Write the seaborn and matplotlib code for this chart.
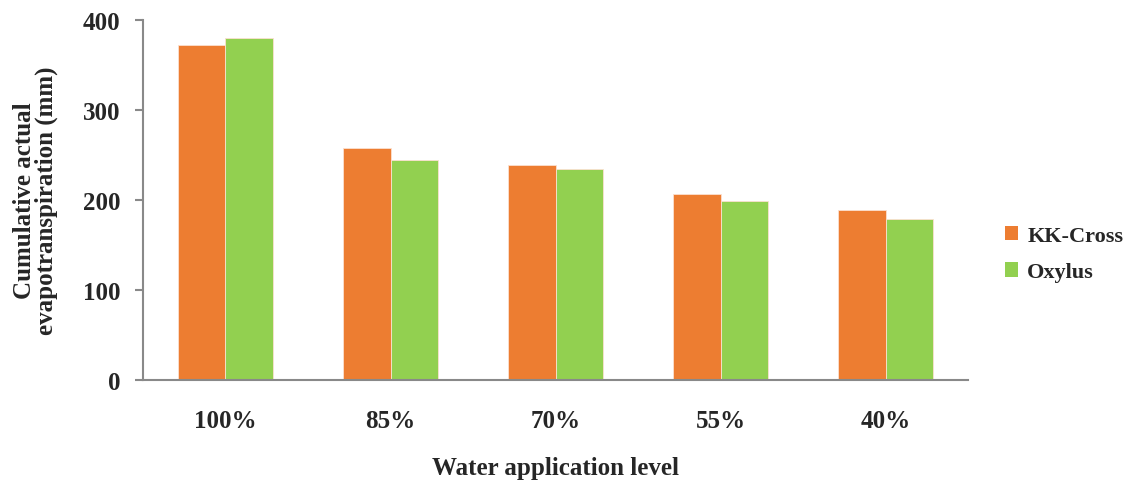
import matplotlib
matplotlib.use("Agg")
import matplotlib.pyplot as plt
import pandas as pd
import seaborn as sns

levels = ["100%", "85%", "70%", "55%", "40%"]
kk_cross = [372, 258, 239, 207, 189]
oxylus = [380, 245, 234, 199, 179]

df = pd.DataFrame({
    "level": levels * 2,
    "value": kk_cross + oxylus,
    "variety": ["KK-Cross"] * len(levels) + ["Oxylus"] * len(levels),
})

sns.set_theme(style="white")
plt.rcParams["font.family"] = ["Liberation Serif", "DejaVu Serif"]
plt.rcParams["font.weight"] = "bold"

fig = plt.figure(figsize=(11.34, 4.81), dpi=100)
ax = fig.add_axes([0.126, 0.208, 0.728, 0.748])

sns.barplot(data=df, x="level", y="value", hue="variety", order=levels,
            palette={"KK-Cross": "#ED7D31", "Oxylus": "#92D050"}, saturation=1,
            width=0.575, gap=0, edgecolor="#fbe0d0", linewidth=0.6, ax=ax)

ax.set_ylim(0, 400)
ax.set_yticks([0, 100, 200, 300, 400])
ax.set_xlim(-0.5, 4.5)
for s in ["top", "right"]:
    ax.spines[s].set_visible(False)
for s in ["left", "bottom"]:
    ax.spines[s].set_color("#898989")
    ax.spines[s].set_linewidth(1.5)
ax.tick_params(axis="y", left=True, length=6, width=1.5, color="#898989",
               labelsize=18, pad=10)
ax.tick_params(axis="x", bottom=False, labelsize=18, pad=15)
for t in ax.get_xticklabels() + ax.get_yticklabels():
    t.set_fontweight("bold")

ax.set_xlabel("Water application level", fontsize=18, fontweight="bold", labelpad=17.5)
ax.set_ylabel("Cumulative actual\nevapotranspiration (mm)", fontsize=18,
              fontweight="bold", labelpad=18, linespacing=0.95)

leg = ax.legend(loc="center left", bbox_to_anchor=(1.02, 0.35), frameon=False,
                fontsize=16, handlelength=0.6, handleheight=0.6,
                handletextpad=0.4, labelspacing=0.75)
for h in leg.legend_handles:
    h.set_edgecolor("none")
for t in leg.get_texts():
    t.set_fontweight("bold")

fig.savefig("out.png", dpi=100)
